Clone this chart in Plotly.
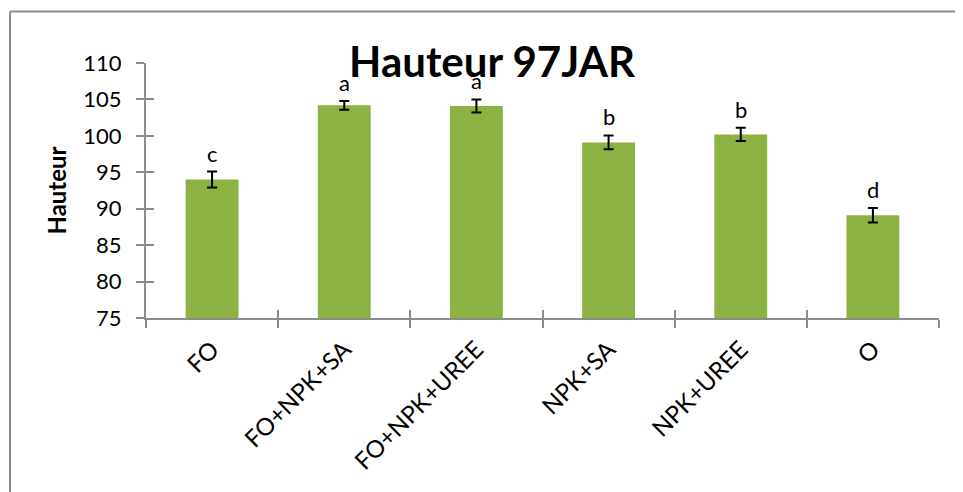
import plotly.graph_objects as go

# donnees
traitements = ["FO", "FO+NPK+SA", "FO+NPK+UREE", "NPK+SA", "NPK+UREE", "O"]
hauteur = [94.0, 104.2, 104.1, 99.1, 100.2, 89.1]
erreur = [1.1, 0.6, 0.9, 0.95, 0.9, 1.0]
lettres = ["c", "a", "a", "b", "b", "d"]

# la page a une marge de 8px autour de la figure
W, H = 955, 484
ML, MR, MT, MB = 138, 24, 55, 173.5
gris = "#8c8c8c"
police = "Lato"

fig = go.Figure()
fig.add_trace(go.Bar(
    x=traitements,
    y=hauteur,
    width=0.4,
    marker=dict(color="#8bb243", line=dict(width=0)),
    error_y=dict(type="data", array=erreur, color="black", thickness=2, width=5),
    showlegend=False,
))
# trace vide pour afficher les axes superposes
fig.add_trace(go.Scatter(x=[None], y=[None], xaxis="x2", yaxis="y2", showlegend=False,
                         hoverinfo="skip"))

# lettres de significativite au-dessus des barres
for t, v, e, l in zip(traitements, hauteur, erreur, lettres):
    fig.add_annotation(x=t, y=v + e, text=l, showarrow=False, yanchor="bottom",
                       yshift=3, font=dict(family=police, size=22, color="black"))

# cadre du graphique (coupe a droite et en bas)
pw = W - ML - MR
ph = H - MT - MB
bx = (2 - ML) / pw
by = (H - MB - 3.5) / ph
fig.add_shape(type="line", xref="paper", yref="paper", x0=bx, x1=1.2, y0=by, y1=by,
              line=dict(color=gris, width=2))
fig.add_shape(type="line", xref="paper", yref="paper", x0=bx, x1=bx, y0=by, y1=-1,
              line=dict(color=gris, width=2))

n = len(traitements)
fig.update_layout(
    width=W, height=H,
    margin=dict(l=ML, r=MR, t=MT, b=MB),
    paper_bgcolor="white", plot_bgcolor="white",
    font=dict(family=police, size=22, color="black"),
    title=dict(text="<b>Hauteur 97JAR</b>", xref="container", x=484 / W, xanchor="center",
               yref="container", y=1 - 54 / H, yanchor="middle",
               font=dict(family=police, size=42, color="black")),
    xaxis=dict(showline=True, linecolor=gris, linewidth=2, ticks="outside", tickson="boundaries",
               ticklen=8, tickcolor=gris, tickwidth=2, tickangle=-45, showgrid=False,
               ticklabelstandoff=6, tickfont=dict(size=24)),
    yaxis=dict(range=[75, 110], dtick=5, showline=True, linecolor=gris, linewidth=2,
               ticks="outside", ticklen=8, tickcolor=gris, tickwidth=2, showgrid=False,
               zeroline=False, ticklabelstandoff=10, tickfont=dict(size=22),
               title=dict(text="<b>Hauteur</b>", standoff=10, font=dict(size=24))),
    # axes superposes pour les graduations qui traversent les axes
    xaxis2=dict(overlaying="x", anchor="y2", side="bottom", range=[-0.5, n - 0.5],
                tickvals=[i - 0.5 for i in range(n + 1)], ticks="inside", ticklen=8,
                tickcolor=gris, tickwidth=2, showticklabels=False, showgrid=False,
                zeroline=False, showline=False),
    yaxis2=dict(overlaying="y", anchor="x2", side="left", range=[75, 110], dtick=5,
                ticks="inside", ticklen=8, tickcolor=gris, tickwidth=2, showticklabels=False,
                showgrid=False, zeroline=False, showline=False),
    bargap=0.6,
)

fig.write_html("out.html")
